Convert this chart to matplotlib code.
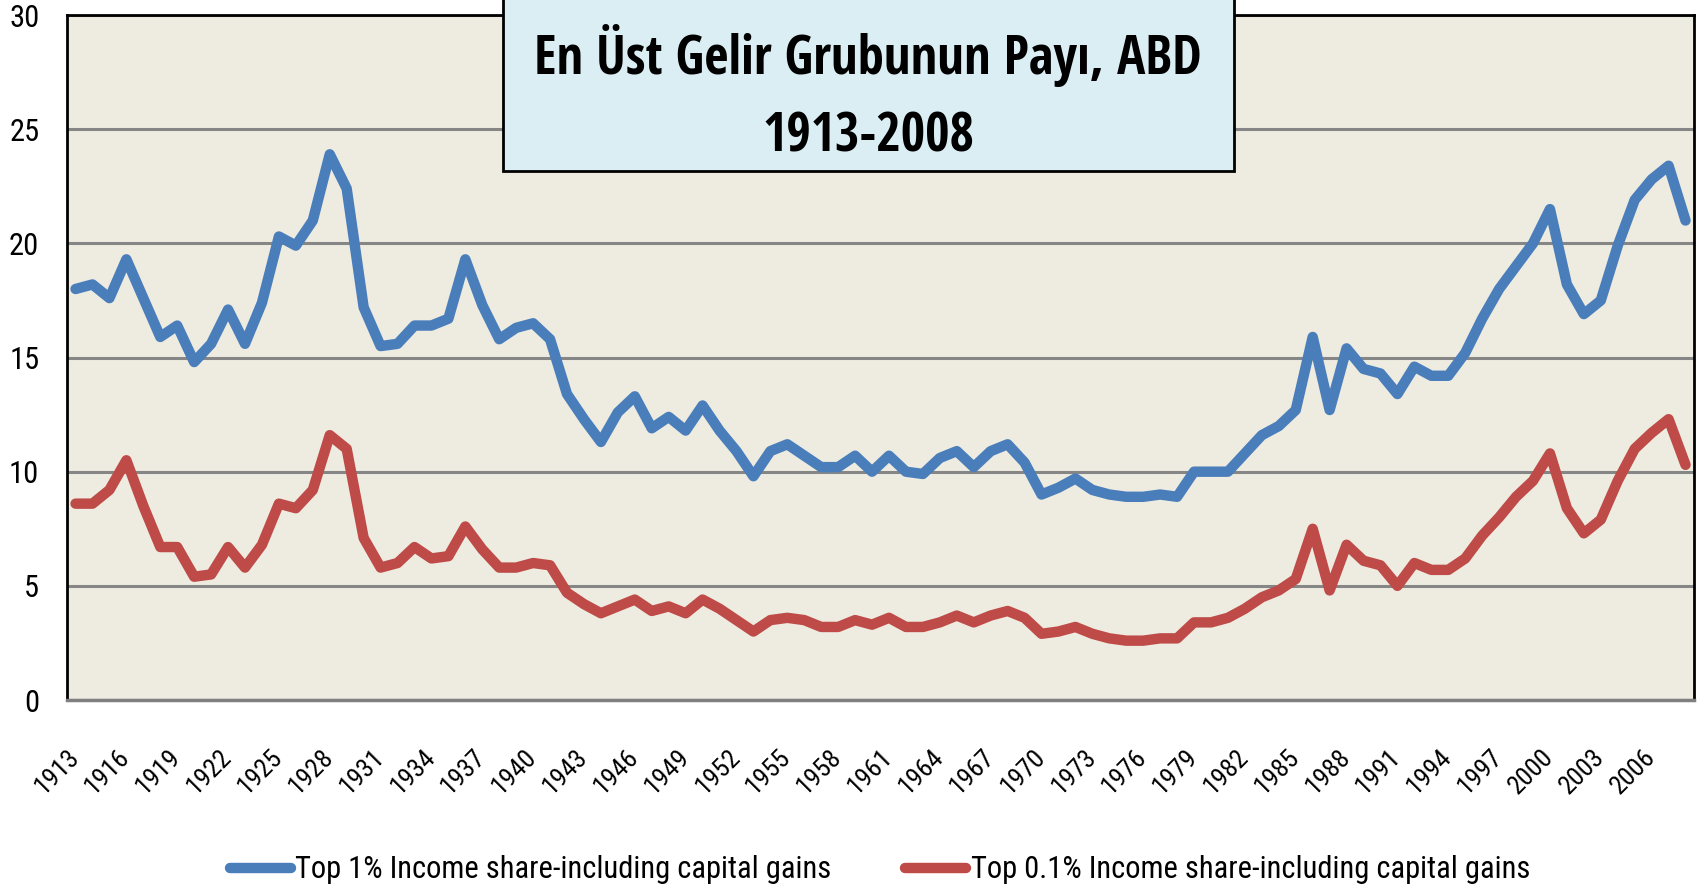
import matplotlib
matplotlib.use("Agg")
import matplotlib.pyplot as plt
from matplotlib.patches import Rectangle

plt.rcParams["font.family"] = ["Roboto Condensed", "DejaVu Sans"]
title_font = ["Open Sans Condensed", "Roboto Condensed", "DejaVu Sans"]

years = list(range(1913, 2009))

top1 = [18.0, 18.2, 17.6, 19.3, 17.6, 15.9, 16.4, 14.8, 15.6, 17.1,
        15.6, 17.4, 20.3, 19.9, 21.0, 23.9, 22.4, 17.2, 15.5, 15.6,
        16.4, 16.4, 16.7, 19.3, 17.3, 15.8, 16.3, 16.5, 15.8, 13.4,
        12.3, 11.3, 12.6, 13.3, 11.9, 12.4, 11.8, 12.9, 11.8, 10.9,
        9.8, 10.9, 11.2, 10.7, 10.2, 10.2, 10.7, 10.0, 10.7, 10.0,
        9.9, 10.6, 10.9, 10.2, 10.9, 11.2, 10.4, 9.0, 9.3, 9.7,
        9.2, 9.0, 8.9, 8.9, 9.0, 8.9, 10.0, 10.0, 10.0, 10.8,
        11.6, 12.0, 12.7, 15.9, 12.7, 15.4, 14.5, 14.3, 13.4, 14.6,
        14.2, 14.2, 15.2, 16.7, 18.0, 19.0, 20.0, 21.5, 18.2, 16.9,
        17.5, 19.9, 21.9, 22.8, 23.4, 21.0]

top01 = [8.6, 8.6, 9.2, 10.5, 8.5, 6.7, 6.7, 5.4, 5.5, 6.7,
         5.8, 6.8, 8.6, 8.4, 9.2, 11.6, 11.0, 7.1, 5.8, 6.0,
         6.7, 6.2, 6.3, 7.6, 6.6, 5.8, 5.8, 6.0, 5.9, 4.7,
         4.2, 3.8, 4.1, 4.4, 3.9, 4.1, 3.8, 4.4, 4.0, 3.5,
         3.0, 3.5, 3.6, 3.5, 3.2, 3.2, 3.5, 3.3, 3.6, 3.2,
         3.2, 3.4, 3.7, 3.4, 3.7, 3.9, 3.6, 2.9, 3.0, 3.2,
         2.9, 2.7, 2.6, 2.6, 2.7, 2.7, 3.4, 3.4, 3.6, 4.0,
         4.5, 4.8, 5.3, 7.5, 4.8, 6.8, 6.1, 5.9, 5.0, 6.0,
         5.7, 5.7, 6.2, 7.2, 8.0, 8.9, 9.6, 10.8, 8.4, 7.3,
         7.9, 9.6, 11.0, 11.7, 12.3, 10.3]

labels = ["Top 1% Income share-including capital gains",
          "Top 0.1% Income share-including capital gains"]
title_lines = ["En Üst Gelir Grubunun Payı, ABD", "1913-2008"]

fig = plt.figure(figsize=(17.02, 8.93), dpi=100)
ax = fig.add_axes([0.0394, 0.2161, 0.9559, 0.7671])
ax.set_facecolor("#EEECE1")

x = list(range(len(years)))
ax.plot(x, top1, color="#4A7EBB", lw=7.5, solid_joinstyle="round",
        solid_capstyle="round", label=labels[0], zorder=3)
ax.plot(x, top01, color="#BE4B48", lw=7.5, solid_joinstyle="round",
        solid_capstyle="round", label=labels[1], zorder=3)

ax.set_xlim(-0.5, len(years) - 0.5)
ax.set_ylim(0, 30)
ax.set_yticks(range(0, 31, 5))
ax.set_yticklabels([str(v) for v in range(0, 31, 5)], fontsize=22)
ax.set_xticks(x[::3])
ax.set_xticklabels([str(y) for y in years[::3]], fontsize=19, rotation=45,
                   ha="right", va="center", rotation_mode="anchor")
ax.tick_params(axis="y", length=0, pad=20)
ax.tick_params(axis="x", length=0, pad=38)
ax.yaxis.grid(True, color="#868686", lw=2.2, zorder=1)
ax.set_axisbelow(True)
for s in ["left", "top", "right"]:
    ax.spines[s].set_color("black")
    ax.spines[s].set_linewidth(2)
ax.spines["bottom"].set_color("#7F7F7F")
ax.spines["bottom"].set_linewidth(2.5)

fig.legend(loc="center", bbox_to_anchor=(0.517, 0.026), ncol=2, frameon=False,
           fontsize=22, handlelength=2.0, handletextpad=0.15, columnspacing=2.4)

box = Rectangle((0.2955, 0.8085), 0.4295, 0.3, transform=fig.transFigure,
                facecolor="#DBEEF4", edgecolor="black", lw=2, zorder=5, clip_on=False)
fig.patches.append(box)
fig.text(0.51, 0.917, title_lines[0], ha="center", va="baseline", family=title_font,
         fontsize=38, fontweight="bold", zorder=6)
fig.text(0.51, 0.830, title_lines[1], ha="center", va="baseline", family=title_font,
         fontsize=38, fontweight="bold", zorder=6)

fig.savefig("out.png", dpi=100)
